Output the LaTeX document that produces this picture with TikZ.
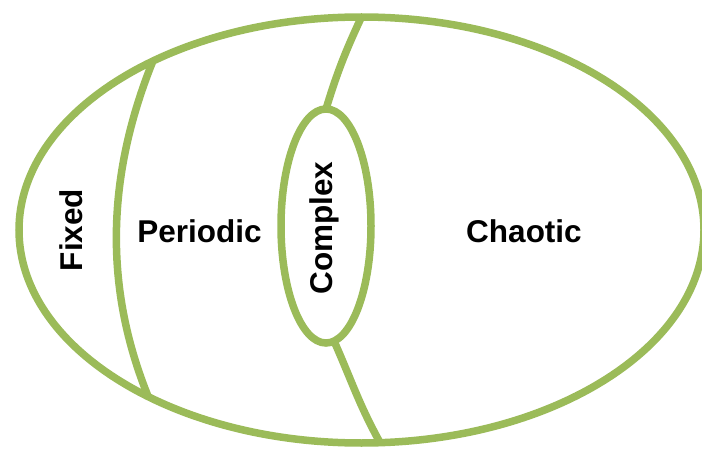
\documentclass[tikz,border=0pt]{standalone}
\usepackage{fontspec}
\setmainfont{Liberation Sans}
\usetikzlibrary{shapes.geometric}
\definecolor{leaf}{RGB}{155,187,89}
\begin{document}
\begin{tikzpicture}[x=1pt,y=1pt,
  ring/.style={draw=leaf,line width=7.5pt,ellipse,inner sep=0pt,outer sep=0pt},
  divider/.style={draw=leaf,line width=7.5pt},
  lbl/.style={font=\fontsize{31.5}{36}\selectfont\bfseries,inner sep=0pt,text=black}]
\useasboundingbox (0,0) rectangle (702,448);
\node[ring,minimum width=685pt,minimum height=426pt] (outer) at (361.5,218) {};
\node[ring,minimum width=90pt,minimum height=234pt] (cx) at (326,222) {};
\draw[divider] (cx.north) to[out=73,in=245] (outer.north);
\draw[divider] (cx.-86) to[out=294,in=119] (outer.275.5);
\coordinate (ltop) at (outer.141.7);
\coordinate (lbot) at (outer.218.3);
\draw[divider] (ltop) .. controls (105,268) and (105,158) .. (lbot);
\node[lbl,rotate=90,anchor=base] (fixed) at (82.5,218) {Fixed};
\node[lbl,anchor=base] (periodic) at (199.5,205.5) {Periodic};
\node[lbl,rotate=90,anchor=base] (complex) at (332,220) {Complex};
\node[lbl,anchor=base] (chaotic) at (524,205.5) {Chaotic};
\end{tikzpicture}
\end{document}
